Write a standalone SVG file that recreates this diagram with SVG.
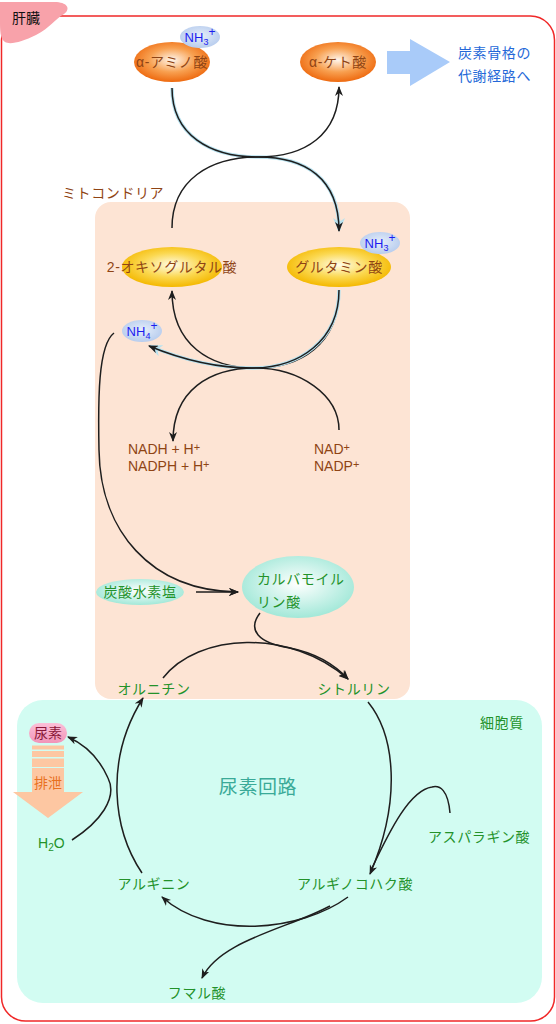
<svg xmlns="http://www.w3.org/2000/svg" width="556" height="1024" viewBox="0 0 556 1024">
<style>
text{font-family:"Liberation Sans","Noto Sans CJK JP",sans-serif;font-size:14px;letter-spacing:0.6px}
.br{fill:#8f4414}
.gr{fill:#23922a}
.bl{fill:#1c1cf0;font-size:13px;letter-spacing:0}
.c{text-anchor:middle}
.ln{fill:none;stroke:#1e1e1e;stroke-width:1.5}
.glow{fill:none;stroke:#b8e2ef;stroke-width:3.5}
</style>
<defs>
<radialGradient id="gOr" cx="50%" cy="45%" r="55%"><stop offset="0" stop-color="#fff6ec"/><stop offset="0.55" stop-color="#f8a050"/><stop offset="1" stop-color="#ee6a10"/></radialGradient>
<radialGradient id="gYe" cx="50%" cy="45%" r="55%"><stop offset="0" stop-color="#fffce8"/><stop offset="0.55" stop-color="#fbd850"/><stop offset="1" stop-color="#f4b800"/></radialGradient>
<radialGradient id="gCy" cx="50%" cy="45%" r="55%"><stop offset="0" stop-color="#ffffff"/><stop offset="1" stop-color="#a2e8d8"/></radialGradient>
<radialGradient id="gBl" cx="50%" cy="45%" r="55%"><stop offset="0" stop-color="#e6eefa"/><stop offset="1" stop-color="#b8cdee"/></radialGradient>
<linearGradient id="gPk" x1="0" y1="0" x2="0" y2="1"><stop offset="0" stop-color="#fbc0d8"/><stop offset="1" stop-color="#f294b8"/></linearGradient>
<marker id="ah" viewBox="0 0 10 8" refX="9" refY="4" markerWidth="10" markerHeight="8" orient="auto" markerUnits="userSpaceOnUse"><path d="M0,0 L10,4 L0,8 L3,4 Z" fill="#1e1e1e"/></marker>
<marker id="ahg" viewBox="0 0 14 12" refX="12" refY="6" markerWidth="14" markerHeight="12" orient="auto" markerUnits="userSpaceOnUse"><path d="M0,0 L14,6 L0,12 L4,6 Z" fill="#b8e2ef"/></marker>
</defs>

<g id="liver">
<rect x="1.5" y="16" width="553" height="1005" rx="24" fill="#fff" stroke="#f02828" stroke-width="1.5"/>
<path d="M0,2 L52,2 C66,1 72,8 64,14 C55,19 50,28 36,35 C22,42 10,45 5,42 C0,39 0,30 0,20 Z" fill="#f8a2aa"/>
<text x="12" y="23" fill="#111" style="letter-spacing:0">肝臓</text>
</g>

<g id="cytoplasm">
<rect x="17" y="700" width="525" height="303" rx="26" fill="#d2fcf2"/>
<text x="480" y="728" class="gr">細胞質</text>
<text x="258" y="794" class="c" fill="#3aaa98" style="font-size:19px">尿素回路</text>
</g>

<g id="mitochondria">
<rect x="95" y="202" width="315" height="497" rx="16" fill="#fde4d4"/>
<text x="62" y="198" class="br">ミトコンドリア</text>
</g>

<g id="connectors">
<path class="glow" d="M172,88 C172,135 210,157 258,157 C305,157 339,178 339,230" marker-end="url(#ahg)"/>
<path class="ln" d="M172,88 C172,135 210,157 258,157 C305,157 339,178 339,231" marker-end="url(#ah)"/>
<path class="ln" d="M172,228 C172,180 210,157 258,157 C305,157 339,135 339,87" marker-end="url(#ah)"/>
<path class="ln" d="M339,290 C339,345 300,368 255,368 C210,368 172,345 172,291" marker-end="url(#ah)"/>
<path class="glow" d="M339,290 C339,340 300,368 252,368 C212,368 178,358 150,346" marker-end="url(#ahg)"/>
<path class="ln" d="M339,290 C339,340 300,368 252,368 C212,368 178,358 149,346" marker-end="url(#ah)"/>
<path class="ln" d="M339,430 C339,395 300,368 255,368 C210,368 173,390 173,441" marker-end="url(#ah)"/>
<path class="ln" d="M114,333 C98,345 98,400 99,450 C100,530 150,591 238,592" marker-end="url(#ah)"/>
<path class="ln" d="M196,592 L238,592" marker-end="url(#ah)"/>
<path class="ln" d="M260,613 C247,630 258,643 290,648 C315,653 335,665 348,679" marker-end="url(#ah)"/>
<path class="ln" d="M163,678 C198,633 290,628 348,679" marker-end="url(#ah)"/>
<path class="ln" d="M368,702 C395,735 402,800 370,874" marker-end="url(#ah)"/>
<path class="ln" d="M450,813 C448,790 440,785 432,787 C410,790 390,830 372,868"/>
<path class="ln" d="M348,897 C300,932 210,940 162,897" marker-end="url(#ah)"/>
<path class="ln" d="M330,906 C290,928 220,940 202,978" marker-end="url(#ah)"/>
<path class="ln" d="M142,873 C113,830 104,760 143,698" marker-end="url(#ah)"/>
<path class="ln" d="M72,840 C100,822 118,798 108,778 C100,760 86,745 68,737" marker-end="url(#ah)"/>
</g>

<g id="alpha-amino">
<ellipse cx="172" cy="62" rx="38" ry="20" fill="url(#gOr)"/>
<text x="172" y="67" class="br c">α-アミノ酸</text>
</g>
<g id="nh3-top">
<ellipse cx="200" cy="37" rx="20" ry="11" fill="url(#gBl)"/>
<text x="200" y="42" class="bl c">NH<tspan font-size="9" dy="3">3</tspan><tspan font-size="12" dy="-9">+</tspan></text>
</g>
<g id="alpha-keto">
<ellipse cx="338" cy="62" rx="38" ry="20" fill="url(#gOr)"/>
<text x="338" y="67" class="br c">α-ケト酸</text>
</g>
<g id="carbon-skeleton">
<polygon points="387,51 410,51 410,39 450,62 410,86 410,74 387,74" fill="#a9cbf9"/>
<text x="458" y="58" fill="#2468d8">炭素骨格の</text>
<text x="458" y="81" fill="#2468d8">代謝経路へ</text>
</g>
<g id="oxoglutarate">
<ellipse cx="172" cy="267" rx="50" ry="20" fill="url(#gYe)"/>
<text x="172" y="272" class="br c">2-オキソグルタル酸</text>
</g>
<g id="glutamate">
<ellipse cx="339" cy="267" rx="52" ry="20" fill="url(#gYe)"/>
<text x="339" y="272" class="br c">グルタミン酸</text>
</g>
<g id="nh3-glu">
<ellipse cx="380" cy="243" rx="20" ry="11" fill="url(#gBl)"/>
<text x="380" y="248" class="bl c">NH<tspan font-size="9" dy="3">3</tspan><tspan font-size="12" dy="-9">+</tspan></text>
</g>
<g id="nh4">
<ellipse cx="142" cy="331" rx="20" ry="11" fill="url(#gBl)"/>
<text x="142" y="336" class="bl c">NH<tspan font-size="9" dy="3">4</tspan><tspan font-size="12" dy="-9">+</tspan></text>
</g>
<g id="nadh">
<text x="128" y="454" class="br" style="letter-spacing:0">NADH + H<tspan font-size="11" dy="-3">+</tspan></text>
<text x="128" y="471" class="br" style="letter-spacing:0">NADPH + H<tspan font-size="11" dy="-3">+</tspan></text>
</g>
<g id="nad">
<text x="314" y="454" class="br" style="letter-spacing:0">NAD<tspan font-size="11" dy="-3">+</tspan></text>
<text x="314" y="471" class="br" style="letter-spacing:0">NADP<tspan font-size="11" dy="-3">+</tspan></text>
</g>
<g id="bicarbonate">
<ellipse cx="140" cy="592" rx="44" ry="13" fill="url(#gCy)"/>
<text x="140" y="597" class="gr c">炭酸水素塩</text>
</g>
<g id="carbamoyl-phosphate">
<ellipse cx="298" cy="587" rx="56" ry="31" fill="url(#gCy)"/>
<text x="257" y="584" class="gr">カルバモイル</text>
<text x="257" y="607" class="gr">リン酸</text>
</g>
<g id="ornithine"><text x="154" y="694" class="gr c">オルニチン</text></g>
<g id="citrulline"><text x="354" y="694" class="gr c">シトルリン</text></g>
<g id="urea">
<rect x="29" y="723" width="38" height="20" rx="10" fill="url(#gPk)"/>
<text x="48" y="738" class="c" fill="#8a1838" style="letter-spacing:0">尿素</text>
<rect x="32" y="745.5" width="32" height="4" fill="#fdc7a2"/>
<rect x="32" y="751" width="32" height="6" fill="#fdc7a2"/>
<rect x="32" y="758.5" width="32" height="8.5" fill="#fdc7a2"/>
<polygon points="32,768 64,768 64,792 83,792 48,818 13,792 32,792" fill="#fdc7a2"/>
<text x="48" y="788" class="c" fill="#e8701e" style="letter-spacing:0">排泄</text>
</g>
<g id="h2o"><text x="38" y="848" class="gr" style="letter-spacing:0">H<tspan font-size="10" dy="3">2</tspan><tspan dy="-3">O</tspan></text></g>
<g id="aspartate"><text x="428" y="842" class="gr">アスパラギン酸</text></g>
<g id="arginine"><text x="154" y="889" class="gr c">アルギニン</text></g>
<g id="argininosuccinate"><text x="355" y="889" class="gr c">アルギノコハク酸</text></g>
<g id="fumarate"><text x="197" y="998" class="gr c">フマル酸</text></g>
</svg>
